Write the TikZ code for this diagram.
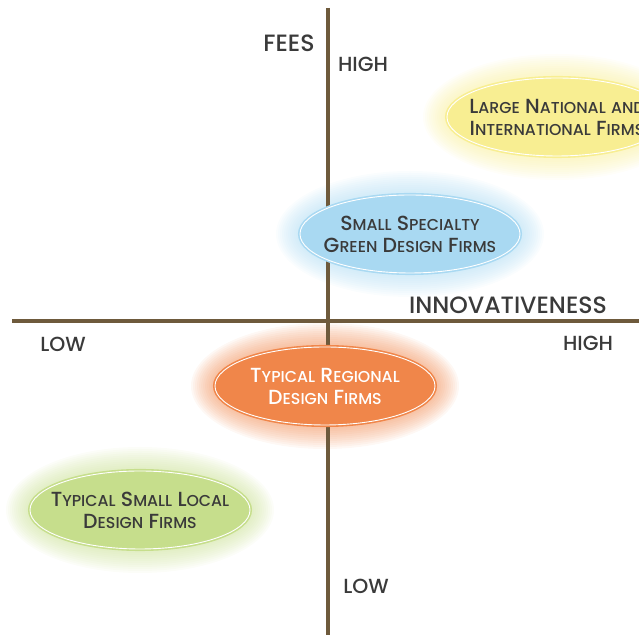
\documentclass[tikz,border=0pt]{standalone}
\usepackage{fontspec}
\setmainfont{Poppins}[UprightFont=* Medium]
\usetikzlibrary{shapes.geometric}
\definecolor{axisbrown}{HTML}{6E5A3C}
\definecolor{labelgray}{HTML}{3A3A3A}
\definecolor{largefill}{HTML}{F8EE92}
\definecolor{smallfill}{HTML}{A9D9F2}
\definecolor{regionalfill}{HTML}{F0864A}
\definecolor{localfill}{HTML}{C6DE8C}
% small caps by hand: capital, then smaller capitals
\newcommand\sk[2]{#1{\fontsize{7.9}{9}\selectfont #2}}
\begin{document}
\begin{tikzpicture}
        [x=0.5pt, y=-0.5pt,
        firm/.style={ellipse, minimum width=110pt, minimum height=39pt, inner sep=0pt,
          line width=0.8pt, double=white, double distance=0.45pt},
        firmtext/.style={align=center, inner sep=0pt,
          font=\fontsize{10.2}{11}\selectfont, text=labelgray},
        axis/.style={axisbrown, line width=2pt},
        tag/.style={font=\fontsize{11.8}{13}\selectfont, text=labelgray, inner sep=0pt},
        endtag/.style={tag, font=\fontsize{10.2}{12}\selectfont}]

        \clip (0,0) rectangle (639,635);

        % positions of the firms
        \coordinate (largepos) at (557,117);
        \coordinate (smallpos) at (410,234);
        \coordinate (regionalpos) at (325,386);
        \coordinate (localpos) at (140,510);

        % glow round each ellipse
        \foreach \p/\c in {largepos/largefill, smallpos/smallfill, regionalpos/regionalfill, localpos/localfill}
          \foreach \r in {1,...,12}
            \fill[\c, opacity=0.06] (\p) ellipse ({55pt+\r*1pt} and {19.5pt+\r*1pt});

        % axes
        \coordinate (ftop) at (328,8);
        \coordinate (fbot) at (328,635);
        \coordinate (ileft) at (12,321);
        \coordinate (iright) at (639,321);
        \draw[axis] (ftop) -- (fbot);
        \draw[axis] (ileft) -- (iright);

        % firms
        \node[firm, fill=largefill, draw=largefill] (large) at (largepos) {};
        \node[firm, fill=smallfill, draw=smallfill] (small) at (smallpos) {};
        \node[firm, fill=regionalfill, draw=regionalfill] (regional) at (regionalpos) {};
        \node[firm, fill=localfill, draw=localfill] (local) at (localpos) {};

        \node[firmtext] (largetext) at (large)
          {\sk{L}{ARGE} \sk{N}{ATIONAL} \sk{}{AND}\\\sk{I}{NTERNATIONAL} \sk{F}{IRMS}};
        \node[firmtext] (smalltext) at (small)
          {\sk{S}{MALL} \sk{S}{PECIALTY}\\\sk{G}{REEN} \sk{D}{ESIGN} \sk{F}{IRMS}};
        \node[firmtext, text=white] (regionaltext) at (regional)
          {\sk{T}{YPICAL} \sk{R}{EGIONAL}\\\sk{D}{ESIGN} \sk{F}{IRMS}};
        \node[firmtext] (localtext) at (local)
          {\sk{T}{YPICAL} \sk{S}{MALL} \sk{L}{OCAL}\\\sk{D}{ESIGN} \sk{F}{IRMS}};

        % axis labels
        \node[tag] (fees) at (289,43) {FEES};
        \node[endtag] (feeshigh) at (363,64) {HIGH};
        \node[endtag] (feeslow) at (366,586) {LOW};
        \node[tag] (innov) at (508,305) {INNOVATIVENESS};
        \node[endtag] (innovlow) at (63,344) {LOW};
        \node[endtag] (innovhigh) at (588,343) {HIGH};

\end{tikzpicture}
\end{document}
